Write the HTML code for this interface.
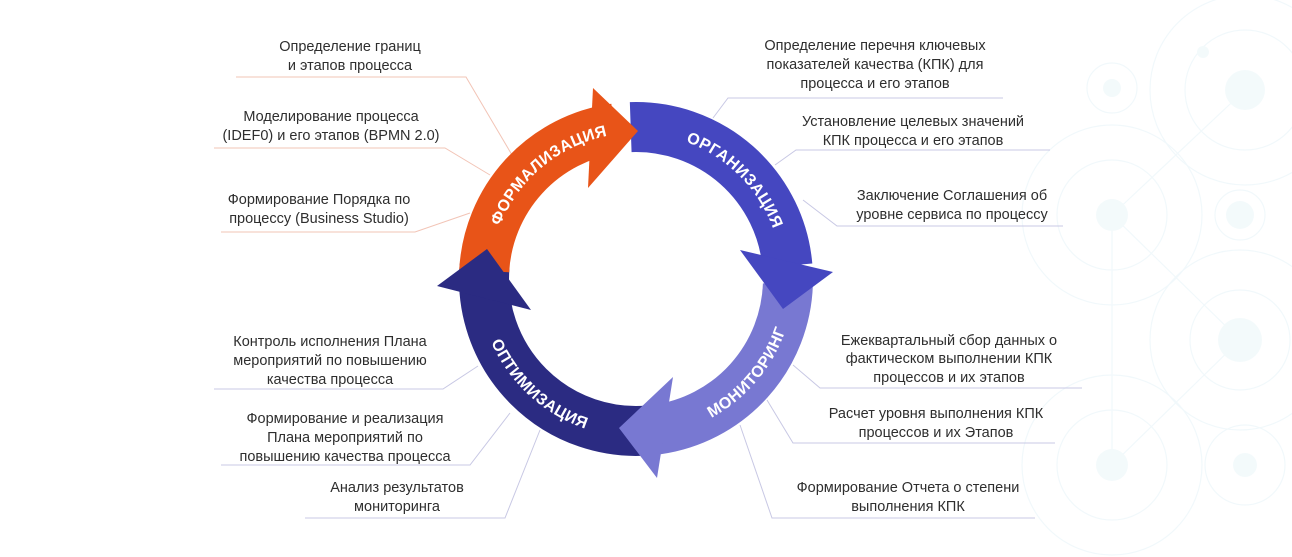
<!DOCTYPE html>
<html><head><meta charset="utf-8">
<style>
html,body{margin:0;padding:0;background:#fff;}
body{width:1292px;height:557px;overflow:hidden;position:relative;}
svg{position:absolute;left:0;top:0;}
.t{font-family:"Liberation Sans","DejaVu Sans",sans-serif;font-size:14.5px;fill:#2e2e2e;text-anchor:middle;}
.a{font-family:"Liberation Sans","DejaVu Sans",sans-serif;font-size:16px;font-weight:bold;fill:#fff;letter-spacing:0.5px;}
</style></head>
<body>
<svg width="1292" height="557" viewBox="0 0 1292 557" xmlns="http://www.w3.org/2000/svg">
<g opacity="0.55">
<g fill="none" stroke="#e6f4f8" stroke-width="1.2">
<circle cx="1245" cy="90" r="95"/>
<circle cx="1245" cy="90" r="60"/>
<circle cx="1112" cy="215" r="90"/>
<circle cx="1112" cy="215" r="55"/>
<circle cx="1240" cy="340" r="90"/>
<circle cx="1240" cy="340" r="50"/>
<circle cx="1112" cy="465" r="90"/>
<circle cx="1112" cy="465" r="55"/>
<circle cx="1245" cy="465" r="40"/>
<circle cx="1112" cy="88" r="25"/>
<circle cx="1240" cy="215" r="25"/>
<line x1="1112" y1="215" x2="1240" y2="340"/>
<line x1="1245" y1="90" x2="1112" y2="215"/>
<line x1="1112" y1="215" x2="1112" y2="465"/>
<line x1="1240" y1="340" x2="1112" y2="465"/>
</g>
<g fill="#eaf6f9">
<circle cx="1245" cy="90" r="20"/>
<circle cx="1112" cy="215" r="16"/>
<circle cx="1240" cy="340" r="22"/>
<circle cx="1112" cy="465" r="16"/>
<circle cx="1112" cy="88" r="9"/>
<circle cx="1240" cy="215" r="14"/>
<circle cx="1245" cy="465" r="12"/>
<circle cx="1203" cy="52" r="6"/>
</g>
</g>

<g fill="none" stroke-width="1">
<polyline points="236,77 466,77 512,155" stroke="#f2c4b6"/>
<polyline points="214,148 445,148 490,175" stroke="#f2c4b6"/>
<polyline points="221,232 415,232 470,213" stroke="#f2c4b6"/>
<polyline points="214,389 443,389 478,366" stroke="#c8c8e4"/>
<polyline points="221,465 470,465 510,413" stroke="#c8c8e4"/>
<polyline points="305,518 505,518 540,430" stroke="#c8c8e4"/>
<polyline points="713,118 728,98 1003,98" stroke="#c8c8e4"/>
<polyline points="775,165 796,150 1050,150" stroke="#c8c8e4"/>
<polyline points="803,200 837,226 1063,226" stroke="#c8c8e4"/>
<polyline points="793,365 820,388 1082,388" stroke="#c8c8e4"/>
<polyline points="767,400 793,443 1055,443" stroke="#c8c8e4"/>
<polyline points="740,425 772,518 1035,518" stroke="#c8c8e4"/>
</g>

<g fill="none" stroke-width="50">
<path d="M649.2,430.4 A152,152 0 0 1 484.6,265.7" stroke="#2b2b82"/>
<path d="M787.9,284.3 A152,152 0 0 1 657.2,429.5" stroke="#7878d2"/>
<path d="M630.7,127.1 A152,152 0 0 1 787.4,265.7" stroke="#4547c0"/>
<path d="M484.2,271.0 A152,152 0 0 1 614.8,128.5" stroke="#e85418"/>
</g>
<polygon points="593,88 638,131 588,188" fill="#e85418"/>
<polygon points="740,250 833,272 783,309" fill="#4547c0"/>
<polygon points="673,377 619,428 657,478" fill="#7878d2"/>
<polygon points="437,286 487,249 531,310" fill="#2b2b82"/>

<defs>
<path id="p1" d="M495.0,241.2 A146,146 0 0 1 623.3,133.6"/>
<path id="p2" d="M661.3,135.2 A146,146 0 0 1 779.8,253.7"/>
<path id="p3" d="M676.9,431.6 A158,158 0 0 0 793.4,292.8"/>
<path id="p4" d="M480.4,306.4 A158,158 0 0 0 622.2,436.4"/>
</defs>
<text class="a"><textPath href="#p1" startOffset="50%" text-anchor="middle">ФОРМАЛИЗАЦИЯ</textPath></text>
<text class="a"><textPath href="#p2" startOffset="50%" text-anchor="middle">ОРГАНИЗАЦИЯ</textPath></text>
<text class="a"><textPath href="#p3" startOffset="50%" text-anchor="middle">МОНИТОРИНГ</textPath></text>
<text class="a"><textPath href="#p4" startOffset="50%" text-anchor="middle">ОПТИМИЗАЦИЯ</textPath></text>

<text class="t" x="350" y="51">Определение границ</text>
<text class="t" x="350" y="70">и этапов процесса</text>
<text class="t" x="331" y="121">Моделирование процесса</text>
<text class="t" x="331" y="140">(IDEF0) и его этапов (BPMN 2.0)</text>
<text class="t" x="319" y="204">Формирование Порядка по</text>
<text class="t" x="319" y="223">процессу (Business Studio)</text>
<text class="t" x="330" y="346">Контроль исполнения Плана</text>
<text class="t" x="330" y="365">мероприятий по повышению</text>
<text class="t" x="330" y="384">качества процесса</text>
<text class="t" x="345" y="423">Формирование и реализация</text>
<text class="t" x="345" y="442">Плана мероприятий по</text>
<text class="t" x="345" y="461">повышению качества процесса</text>
<text class="t" x="397" y="492">Анализ результатов</text>
<text class="t" x="397" y="511">мониторинга</text>
<text class="t" x="875" y="50">Определение перечня ключевых</text>
<text class="t" x="875" y="69">показателей качества (КПК) для</text>
<text class="t" x="875" y="88">процесса и его этапов</text>
<text class="t" x="913" y="126">Установление целевых значений</text>
<text class="t" x="913" y="145">КПК процесса и его этапов</text>
<text class="t" x="952" y="200">Заключение Соглашения об</text>
<text class="t" x="952" y="219">уровне сервиса по процессу</text>
<text class="t" x="949" y="345">Ежеквартальный сбор данных о</text>
<text class="t" x="949" y="363">фактическом выполнении КПК</text>
<text class="t" x="949" y="382">процессов и их этапов</text>
<text class="t" x="936" y="418">Расчет уровня выполнения КПК</text>
<text class="t" x="936" y="437">процессов и их Этапов</text>
<text class="t" x="908" y="492">Формирование Отчета о степени</text>
<text class="t" x="908" y="511">выполнения КПК</text>
</svg>
</body></html>
